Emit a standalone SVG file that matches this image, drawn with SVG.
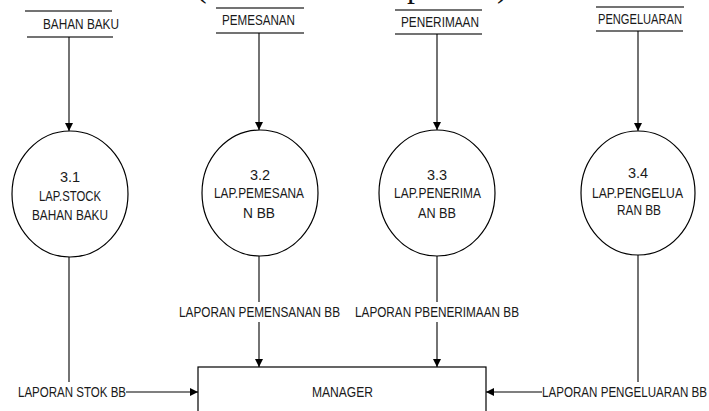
<svg xmlns="http://www.w3.org/2000/svg" width="709" height="411" viewBox="0 0 709 411">
  <defs>
    <marker id="arrow" viewBox="0 0 10 10" refX="10" refY="5" markerWidth="8" markerHeight="8" markerUnits="userSpaceOnUse" orient="auto">
      <path d="M0,0 L10,5 L0,10 Z" fill="#000"/>
    </marker>
  </defs>
  <style>
    .lbl { font-family: "Liberation Sans", Arial, sans-serif; font-size: 14.5px; fill: #1a1a1a; }
    .mid { text-anchor: middle; }
    .store { stroke: #444; stroke-width: 1.6; fill: none; }
    .proc { fill: #fff; stroke: #000; stroke-width: 1.2; }
    .flow { stroke: #000; stroke-width: 1.1; fill: none; }
    .flowa { stroke: #000; stroke-width: 1.1; fill: none; marker-end: url(#arrow); }
    .title { font-family: "Liberation Serif", "Times New Roman", serif; font-size: 32px; fill: #111; }
  </style>
  <rect width="709" height="411" fill="#fff"/>

  <!-- heading, mostly above the top edge -->
  <text class="title" y="-3"><tspan x="196">(</tspan><tspan x="407">p</tspan><tspan x="497">)</tspan></text>

  <!-- data stores -->
  <g id="store-bahan-baku">
    <line class="store" x1="25" y1="11" x2="112" y2="11"/>
    <line class="store" x1="27" y1="37" x2="113" y2="37"/>
    <text class="lbl" x="43" y="29" textLength="76" lengthAdjust="spacingAndGlyphs">BAHAN BAKU</text>
  </g>
  <g id="store-pemesanan">
    <line class="store" x1="216" y1="8" x2="304" y2="8"/>
    <line class="store" x1="216" y1="33" x2="304" y2="33"/>
    <text class="lbl" x="222" y="25" textLength="73" lengthAdjust="spacingAndGlyphs">PEMESANAN</text>
  </g>
  <g id="store-penerimaan">
    <line class="store" x1="395" y1="10" x2="482" y2="10"/>
    <line class="store" x1="395" y1="34" x2="482" y2="34"/>
    <text class="lbl" x="401" y="27" textLength="78" lengthAdjust="spacingAndGlyphs">PENERIMAAN</text>
  </g>
  <g id="store-pengeluaran">
    <line class="store" x1="596" y1="7" x2="684" y2="7"/>
    <line class="store" x1="596" y1="31" x2="683" y2="31"/>
    <text class="lbl" x="598" y="24" textLength="84" lengthAdjust="spacingAndGlyphs">PENGELUARAN</text>
  </g>

  <!-- processes -->
  <g id="proc-3-1">
    <ellipse class="proc" cx="70" cy="194" rx="58" ry="63"/>
    <text class="lbl mid" x="70" y="182">3.1</text>
    <text class="lbl" x="39" y="201" textLength="62" lengthAdjust="spacingAndGlyphs">LAP.STOCK</text>
    <text class="lbl" x="32" y="220" textLength="76" lengthAdjust="spacingAndGlyphs">BAHAN BAKU</text>
  </g>
  <g id="proc-3-2">
    <ellipse class="proc" cx="260" cy="193" rx="58" ry="63"/>
    <text class="lbl mid" x="260" y="180">3.2</text>
    <text class="lbl" x="214" y="198" textLength="90" lengthAdjust="spacingAndGlyphs">LAP.PEMESANA</text>
    <text class="lbl" x="243" y="218" textLength="32" lengthAdjust="spacingAndGlyphs">N BB</text>
  </g>
  <g id="proc-3-3">
    <ellipse class="proc" cx="437" cy="193" rx="58" ry="63"/>
    <text class="lbl mid" x="437" y="180">3.3</text>
    <text class="lbl" x="394" y="198" textLength="87" lengthAdjust="spacingAndGlyphs">LAP.PENERIMA</text>
    <text class="lbl" x="418" y="218" textLength="38" lengthAdjust="spacingAndGlyphs">AN BB</text>
  </g>
  <g id="proc-3-4">
    <ellipse class="proc" cx="638" cy="193" rx="57" ry="62"/>
    <text class="lbl mid" x="638" y="178">3.4</text>
    <text class="lbl" x="592" y="198" textLength="91" lengthAdjust="spacingAndGlyphs">LAP.PENGELUA</text>
    <text class="lbl" x="617" y="215" textLength="44" lengthAdjust="spacingAndGlyphs">RAN BB</text>
  </g>

  <!-- external entity -->
  <g id="ext-manager">
    <rect x="198" y="367" width="288" height="60" fill="#fff" stroke="#000" stroke-width="1.2"/>
    <text class="lbl" x="312" y="397" textLength="61" lengthAdjust="spacingAndGlyphs">MANAGER</text>
  </g>

  <!-- connectors -->
  <g id="connectors">
    <line class="flowa" x1="69" y1="37" x2="69" y2="131"/>
    <line class="flowa" x1="259" y1="33" x2="259" y2="130"/>
    <line class="flowa" x1="437" y1="34" x2="437" y2="130"/>
    <line class="flowa" x1="638" y1="31" x2="638" y2="131"/>

    <line class="flow" x1="69" y1="257" x2="69" y2="382"/>
    <line class="flowa" x1="126" y1="392" x2="198" y2="392"/>
    <text class="lbl" x="18" y="397" textLength="108" lengthAdjust="spacingAndGlyphs">LAPORAN STOK BB</text>

    <line class="flow" x1="259" y1="256" x2="259" y2="302"/>
    <line class="flowa" x1="259" y1="322" x2="259" y2="367"/>
    <text class="lbl" x="179" y="317" textLength="161" lengthAdjust="spacingAndGlyphs">LAPORAN PEMENSANAN BB</text>

    <line class="flow" x1="437" y1="256" x2="437" y2="302"/>
    <line class="flowa" x1="437" y1="322" x2="437" y2="367"/>
    <text class="lbl" x="355" y="317" textLength="164" lengthAdjust="spacingAndGlyphs">LAPORAN PBENERIMAAN BB</text>

    <line class="flow" x1="638" y1="255" x2="638" y2="382"/>
    <line class="flowa" x1="542" y1="392" x2="486" y2="392"/>
    <text class="lbl" x="542" y="397" textLength="165" lengthAdjust="spacingAndGlyphs">LAPORAN PENGELUARAN BB</text>
  </g>
</svg>
